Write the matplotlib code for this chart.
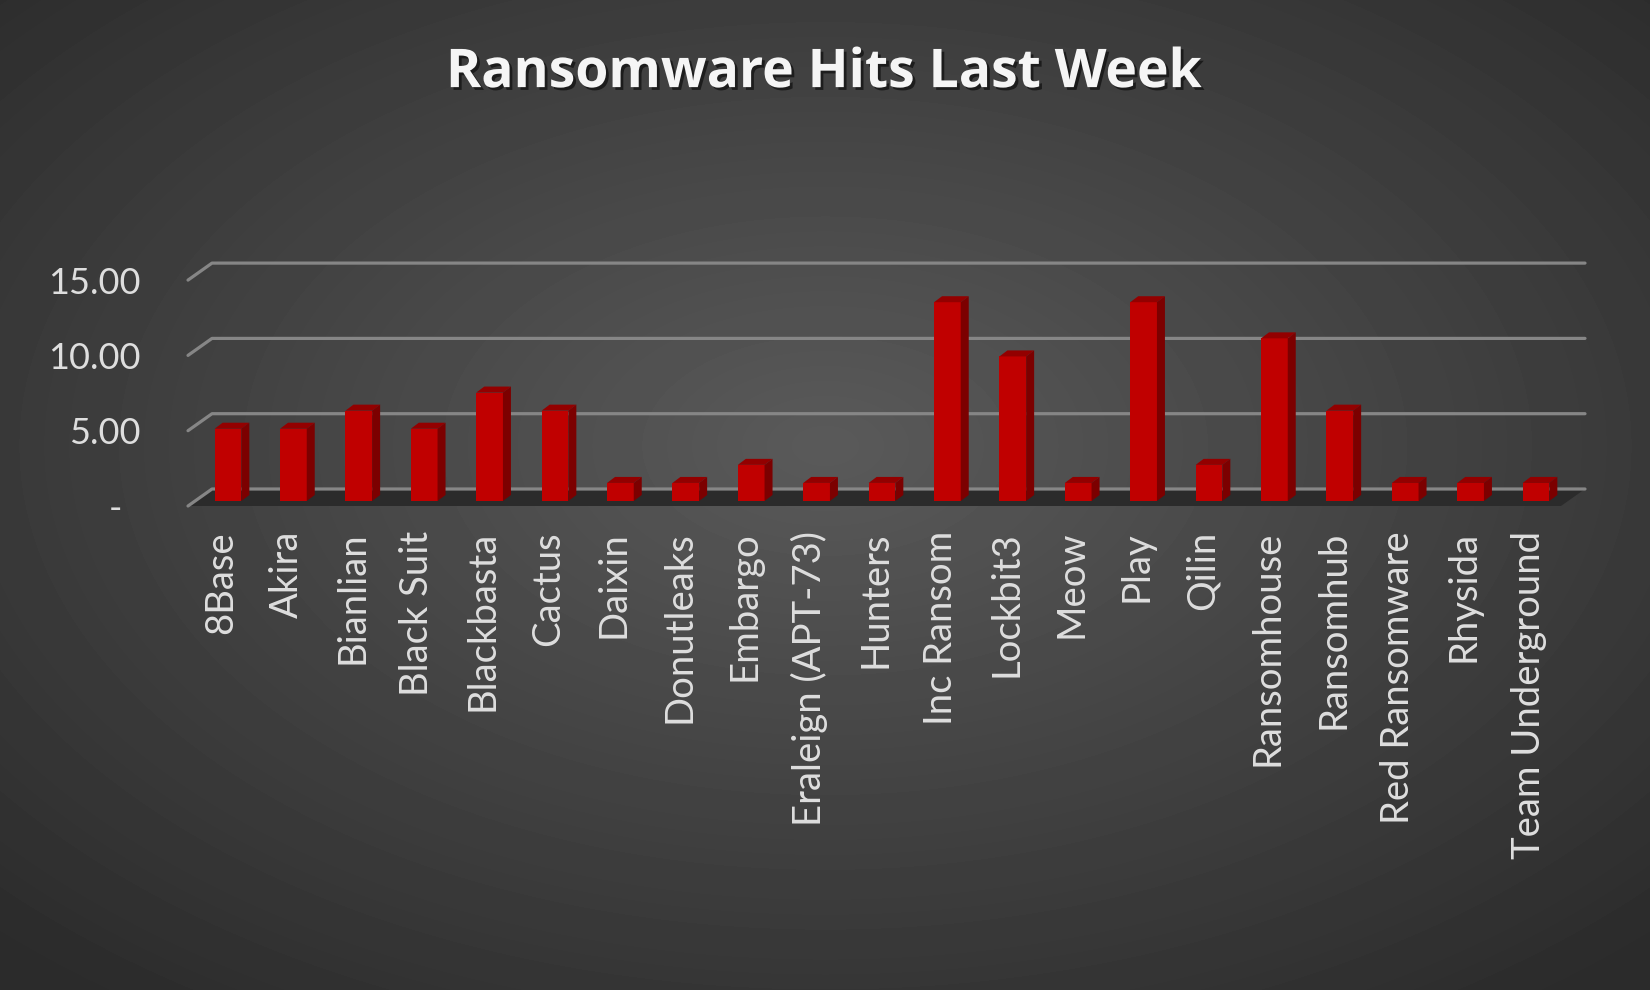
import numpy as np
import matplotlib.pyplot as plt
from matplotlib.patches import Polygon
from matplotlib import patheffects as pe
from matplotlib.transforms import ScaledTranslation

groups = ['8Base', 'Akira', 'Bianlian', 'Black Suit', 'Blackbasta', 'Cactus', 'Daixin',
          'Donutleaks', 'Embargo', 'Eraleign (APT-73)', 'Hunters', 'Inc Ransom', 'Lockbit3',
          'Meow', 'Play', 'Qilin', 'Ransomhouse', 'Ransomhub', 'Red Ransomware', 'Rhysida',
          'Team Underground']
hits = [4.8, 4.8, 6.0, 4.8, 7.2, 6.0, 1.2, 1.2, 2.4, 1.2, 1.2, 13.2, 9.6, 1.2, 13.2, 2.4,
        10.8, 6.0, 1.2, 1.2, 1.2]
yticks = [0, 5, 10, 15]
ytick_labels = ['-', '5.00', '10.00', '15.00']
title = 'Ransomware Hits Last Week'

W, H = 1650, 990
fig = plt.figure(figsize=(W / 100, H / 100), dpi=100)

# radial grey background
bg = fig.add_axes([0, 0, 1, 1])
yy, xx = np.mgrid[0:H, 0:W]
r = np.sqrt(((xx - 0.5 * W) / (0.75 * W)) ** 2 + ((yy - 0.45 * H) / (0.75 * H)) ** 2)
shade = np.clip(r / 0.95, 0, 1)
img = 0x5a / 255 + (0x2b / 255 - 0x5a / 255) * shade
bg.imshow(img, cmap='gray', vmin=0, vmax=1, extent=[0, W, H, 0], aspect='auto')
bg.axis('off')

# pixel scale of the pseudo 3d plot
sx, sy = 65.4, 15.06
left_px, right_px, floor_px, top_px = 188, 1585, 506, 263
ax = fig.add_axes([left_px / W, (H - floor_px) / H, (right_px - left_px) / W, (floor_px - top_px) / H])
x0 = -0.509
x1 = x0 + (right_px - left_px) / sx
ax.set_xlim(x0, x1)
ax.set_ylim(0, (floor_px - top_px) / sy)
ax.patch.set_alpha(0)
for s in ax.spines.values():
    s.set_visible(False)

bar_dx, bar_dy = 6.7 / sx, 5 / sy      # front face behind front edge
dep_dx, dep_dy = 8 / sx, 6 / sy        # bar depth
wall_dx, wall_dy = 24 / sx, 17 / sy    # back wall
bar_w = 26.7 / sx

# floor
ax.add_patch(Polygon([(x0, 0), (x0 + wall_dx, wall_dy), (x1, wall_dy), (x1 - wall_dx, 0)],
                     closed=True, facecolor='#2b2b2b', edgecolor='none', zorder=0.5, clip_on=False))

# gridlines on back + side wall
for g in yticks:
    ax.plot([x0, x0 + wall_dx, x1], [g, g + wall_dy, g + wall_dy], color='#868686', lw=2.3,
            solid_capstyle='round', solid_joinstyle='round', zorder=1, clip_on=False)

x = np.arange(len(groups))
ax.bar(x + bar_dx, hits, width=bar_w, bottom=bar_dy, color='#c00000', zorder=3, clip_on=False)
for xi, v in zip(x, hits):
    lft = xi + bar_dx - bar_w / 2
    rgt = lft + bar_w
    top = bar_dy + v
    ax.add_patch(Polygon([(lft, top), (rgt, top), (rgt + dep_dx, top + dep_dy), (lft + dep_dx, top + dep_dy)],
                         closed=True, facecolor='#930000', edgecolor='none', zorder=3, clip_on=False))
    ax.add_patch(Polygon([(rgt, bar_dy), (rgt, top), (rgt + dep_dx, top + dep_dy), (rgt + dep_dx, bar_dy + dep_dy)],
                         closed=True, facecolor='#7c0000', edgecolor='none', zorder=3, clip_on=False))

ax.set_xticks(x, groups, rotation=90, family='Lato', size=27.5, color='#dedede')
ax.set_yticks(yticks, ytick_labels, family='Lato', size=26, color='#dedede')
ax.tick_params(axis='x', length=0, pad=18)
ax.tick_params(axis='y', length=0, pad=34.5)
# accounting style dash sits left of the others
dash = ax.get_yticklabels()[0]
dash.set_transform(dash.get_transform() + ScaledTranslation(-0.18, 0, fig.dpi_scale_trans))

fig.text(0.499, 0.912, title, ha='center', va='baseline', family='Open Sans', fontsize=38.5,
         fontweight='bold', color='#f5f5f5',
         path_effects=[pe.withSimplePatchShadow(offset=(2, -2), shadow_rgbFace='black', alpha=0.55)])

fig.savefig('out.png', dpi=100)
